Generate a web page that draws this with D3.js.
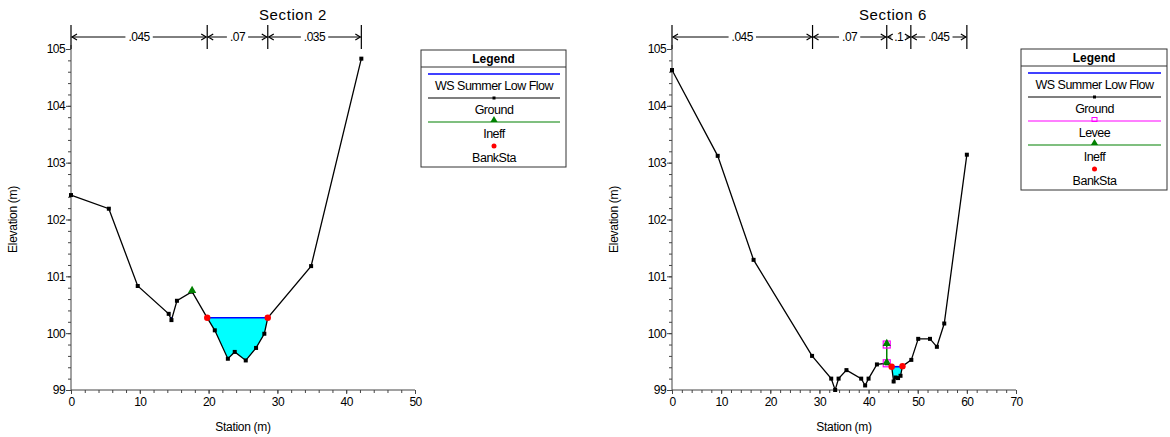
<!DOCTYPE html>
<html>
<head>
<meta charset="utf-8">
<script src="https://cdn.jsdelivr.net/npm/d3@7"></script>
<style>
  body { margin: 0; background: #fff; }
  svg { font-family: "Liberation Sans", Arial, sans-serif; }
  .tick text { font-size: 12px; fill: #000; letter-spacing: -0.6px; }
</style>
</head>
<body>
<div id="chart"></div>
<script>
// ---- Section 2 data ----
var sec2Station = [0, 5.5, 9.7, 14.2, 14.6, 15.4, 17.6, 19.8, 20.9, 22.8, 23.8, 25.4, 26.9, 28.1, 28.6, 34.9, 42.2];
var sec2Elev = [102.43, 102.19, 100.83, 100.34, 100.23, 100.57, 100.73, 100.27, 100.05, 99.55, 99.67, 99.52, 99.74, 99.99, 100.27, 101.18, 104.83];
var sec2Banks = [19.8, 28.6];
var sec2Ws = 100.27;
var sec2WetRanges = [[14.2, 15.4], [19.8, 28.6]];
var sec2IneffSta = [17.6];
var sec2IneffElev = [100.73];
var sec2NBreaks = [0, 19.8, 28.6, 42.2];
var sec2NValues = [".045", ".07", ".035"];
var sec2LegendItems = ["WS Summer Low Flow", "Ground", "Ineff", "BankSta"];

// ---- Section 6 data ----
var sec6Station = [0, 9.3, 16.6, 28.5, 32.4, 33.2, 33.9, 35.5, 38.5, 39.3, 40.0, 41.7, 43.7, 44.7, 45.1, 45.5, 46.0, 46.5, 46.9, 48.7, 50.1, 52.5, 53.9, 55.4, 60.0];
var sec6Elev = [104.63, 103.12, 101.29, 99.60, 99.20, 99.00, 99.20, 99.35, 99.20, 99.08, 99.20, 99.45, 99.47, 99.41, 99.15, 99.22, 99.21, 99.25, 99.42, 99.53, 99.90, 99.90, 99.76, 100.17, 103.14];
var sec6Banks = [44.7, 46.9];
var sec6Ws = 99.41;
var sec6WetRanges = [[44.7, 46.9]];
var sec6IneffSta = [43.7, 43.7];
var sec6IneffElev = [99.47, 99.80];
var sec6LeveeSta = [43.7, 43.7];
var sec6LeveeElev = [99.47, 99.80];
var sec6NBreaks = [0, 28.6, 43.7, 48.6, 60];
var sec6NValues = [".045", ".07", ".1", ".045"];
var sec6LegendItems = ["WS Summer Low Flow", "Ground", "Levee", "Ineff", "BankSta"];

var yTicks = [99, 100, 101, 102, 103, 104, 105];

var svg = d3.select("#chart").append("svg")
    .attr("width", 1170)
    .attr("height", 437);

function interp(sta, elev, x) {
    for (var i = 0; i < sta.length - 1; i++) {
        if (x >= sta[i] && x <= sta[i + 1]) {
            var t = (x - sta[i]) / (sta[i + 1] - sta[i]);
            return elev[i] + t * (elev[i + 1] - elev[i]);
        }
    }
    return elev[elev.length - 1];
}

function drawSection(cfg) {
    var x = d3.scaleLinear().domain([0, cfg.xMax]).range([cfg.left, cfg.right]);
    var y = d3.scaleLinear().domain([99, 105]).range([390, 49]);
    var g = svg.append("g");

    // title
    g.append("text")
        .attr("x", cfg.titleX).attr("y", 20)
        .attr("text-anchor", "middle")
        .attr("font-size", "15px")
        .attr("letter-spacing", "0.6px")
        .text(cfg.title);

    // water fill + WS line over each wet range
    cfg.wet.forEach(function(r) {
        var xs = [r[0]];
        cfg.sta.forEach(function(s) { if (s > r[0] && s < r[1]) xs.push(s); });
        xs.push(r[1]);
        // walk the ground and clip against ws
        var segs = [];
        var cur = null;
        for (var i = 0; i < xs.length - 1; i++) {
            var x0 = xs[i], x1 = xs[i + 1];
            var e0 = interp(cfg.sta, cfg.elev, x0), e1 = interp(cfg.sta, cfg.elev, x1);
            var w0 = e0 <= cfg.ws, w1 = e1 <= cfg.ws;
            if (w0 && !cur) { cur = [[x0, e0]]; }
            if (w0 && w1) { cur.push([x1, e1]); }
            else if (w0 && !w1) {
                var xc = x0 + (cfg.ws - e0) / (e1 - e0) * (x1 - x0);
                cur.push([xc, cfg.ws]); segs.push(cur); cur = null;
            } else if (!w0 && w1) {
                var xc2 = x0 + (cfg.ws - e0) / (e1 - e0) * (x1 - x0);
                cur = [[xc2, cfg.ws], [x1, e1]];
            }
        }
        if (cur) segs.push(cur);
        segs.forEach(function(s) {
            g.append("path")
                .attr("d", d3.line().x(d => x(d[0])).y(d => y(d[1]))(s) + "Z")
                .attr("fill", "#00ffff");
            g.append("line")
                .attr("x1", x(s[0][0])).attr("x2", x(s[s.length - 1][0]))
                .attr("y1", y(cfg.ws)).attr("y2", y(cfg.ws))
                .attr("stroke", "#0000ff").attr("stroke-width", 1.6);
        });
    });

    // axes
    var yMinor = d3.range(99, 105.001, 0.2);
    g.append("g").attr("transform", `translate(${cfg.left},0)`)
        .call(d3.axisLeft(y).tickValues(yMinor).tickSize(3).tickFormat(""))
        .call(a => a.select(".domain").remove())
        .selectAll("line").attr("stroke", "#444");
    var yAxis = g.append("g").attr("transform", `translate(${cfg.left},0)`)
        .call(d3.axisLeft(y).tickValues(yTicks).tickSize(5).tickPadding(1).tickFormat(d3.format("d")));
    yAxis.select(".domain").attr("stroke", "#444").attr("d", `M0,${y(99)}V${y(105) - 4}`);
    yAxis.selectAll("line").attr("stroke", "#444");

    var xMinor = d3.range(0, cfg.xMax + 0.001, 2);
    g.append("g").attr("transform", "translate(0,390)")
        .call(d3.axisBottom(x).tickValues(xMinor).tickSize(3).tickFormat(""))
        .call(a => a.select(".domain").remove())
        .selectAll("line").attr("stroke", "#444");
    var xAxis = g.append("g").attr("transform", "translate(0,390)")
        .call(d3.axisBottom(x).tickValues(d3.range(0, cfg.xMax + 0.001, 10)).tickSize(4).tickPadding(3).tickFormat(d3.format("d")));
    xAxis.select(".domain").attr("stroke", "#444").attr("d", `M${cfg.left},0H${cfg.right}`);
    xAxis.selectAll("line").attr("stroke", "#444");

    // axis titles
    g.append("text")
        .attr("x", (cfg.left + cfg.right) / 2).attr("y", 431)
        .attr("text-anchor", "middle").attr("font-size", "12px")
        .attr("letter-spacing", "-0.3px")
        .text("Station (m)");
    g.append("text")
        .attr("transform", `translate(${cfg.left - 54},${y(102)}) rotate(-90)`)
        .attr("text-anchor", "middle").attr("font-size", "12px")
        .attr("letter-spacing", "-0.3px")
        .text("Elevation (m)");

    // manning's n bar
    var nY = 37;
    cfg.nBreaks.forEach(function(b) {
        g.append("line")
            .attr("x1", x(b)).attr("x2", x(b)).attr("y1", 25).attr("y2", 49)
            .attr("stroke", "#000").attr("stroke-width", 1.2);
    });
    cfg.nValues.forEach(function(v, i) {
        var xa = x(cfg.nBreaks[i]), xb = x(cfg.nBreaks[i + 1]);
        var t = g.append("text")
            .attr("x", (xa + xb) / 2).attr("y", nY + 4)
            .attr("text-anchor", "middle").attr("font-size", "12px")
            .attr("letter-spacing", "-0.5px")
            .text(v);
        var w = t.node().getComputedTextLength();
        var mid = (xa + xb) / 2;
        g.append("line").attr("x1", xa + 1).attr("x2", mid - w / 2 - 3)
            .attr("y1", nY).attr("y2", nY).attr("stroke", "#000");
        g.append("line").attr("x1", mid + w / 2 + 3).attr("x2", xb - 1)
            .attr("y1", nY).attr("y2", nY).attr("stroke", "#000");
        g.append("path")
            .attr("d", `M${xa + 6},${nY - 3}L${xa + 1},${nY}L${xa + 6},${nY + 3}M${xb - 6},${nY - 3}L${xb - 1},${nY}L${xb - 6},${nY + 3}`)
            .attr("fill", "none").attr("stroke", "#000").attr("stroke-width", 1.2);
    });

    // ineffective flow line
    if (cfg.ineffSta.length > 1) {
        g.append("line")
            .attr("x1", x(cfg.ineffSta[0])).attr("x2", x(cfg.ineffSta[1]))
            .attr("y1", y(cfg.ineffElev[0])).attr("y2", y(cfg.ineffElev[1]))
            .attr("stroke", "#008000").attr("stroke-width", 1.5);
    }

    // ground line
    var pts = cfg.sta.map((s, i) => [s, cfg.elev[i]]);
    g.append("path")
        .attr("d", d3.line().x(d => x(d[0])).y(d => y(d[1]))(pts))
        .attr("fill", "none").attr("stroke", "#000").attr("stroke-width", 1.3);
    g.selectAll(null).data(pts).enter().append("rect")
        .attr("x", d => x(d[0]) - 2).attr("y", d => y(d[1]) - 2)
        .attr("width", 4).attr("height", 4).attr("fill", "#000");

    // levee
    if (cfg.leveeSta) {
        cfg.leveeSta.forEach(function(s, i) {
            g.append("rect")
                .attr("x", x(s) - 3.5).attr("y", y(cfg.leveeElev[i]) - 3.5)
                .attr("width", 7).attr("height", 7)
                .attr("fill", "none").attr("stroke", "#ff00ff").attr("stroke-width", 1.2);
        });
    }

    // ineff triangles
    cfg.ineffSta.forEach(function(s, i) {
        g.append("path")
            .attr("d", d3.symbol(d3.symbolTriangle, 30)())
            .attr("transform", `translate(${x(s)},${y(cfg.ineffElev[i]) - 1})`)
            .attr("fill", "#008000");
    });

    // bank stations
    cfg.banks.forEach(function(b) {
        g.append("circle")
            .attr("cx", x(b)).attr("cy", y(interp(cfg.sta, cfg.elev, b)))
            .attr("r", 3.2).attr("fill", "#ff0000");
    });

    // legend
    var L = cfg.legend;
    var lg = g.append("g");
    var items = cfg.legendItems;
    var h = 17 + items.length * 24 + 4;
    lg.append("rect").attr("x", L.x).attr("y", L.y).attr("width", L.w).attr("height", h)
        .attr("fill", "#fff").attr("stroke", "#333");
    lg.append("line").attr("x1", L.x).attr("x2", L.x + L.w).attr("y1", L.y + 17).attr("y2", L.y + 17)
        .attr("stroke", "#333");
    lg.append("text").attr("x", L.x + L.w / 2).attr("y", L.y + 13)
        .attr("text-anchor", "middle").attr("font-size", "12px").attr("font-weight", "bold")
        .text("Legend");
    var lx0 = L.x + 7, lx1 = L.x + L.w - 6, cx = (lx0 + lx1) / 2;
    items.forEach(function(name, i) {
        var ly = L.y + 24 + i * 24;
        if (name === "WS Summer Low Flow") {
            lg.append("line").attr("x1", lx0).attr("x2", lx1).attr("y1", ly).attr("y2", ly)
                .attr("stroke", "#0000ff").attr("stroke-width", 1.5);
        } else if (name === "Ground") {
            lg.append("line").attr("x1", lx0).attr("x2", lx1).attr("y1", ly).attr("y2", ly)
                .attr("stroke", "#000").attr("stroke-width", 1.2);
            lg.append("rect").attr("x", cx - 1.5).attr("y", ly - 1.5).attr("width", 3).attr("height", 3);
        } else if (name === "Levee") {
            lg.append("line").attr("x1", lx0).attr("x2", lx1).attr("y1", ly).attr("y2", ly)
                .attr("stroke", "#ff00ff").attr("stroke-width", 1.2);
            lg.append("rect").attr("x", cx - 2.5).attr("y", ly - 3.5).attr("width", 5).attr("height", 4)
                .attr("fill", "none").attr("stroke", "#ff00ff");
        } else if (name === "Ineff") {
            lg.append("line").attr("x1", lx0).attr("x2", lx1).attr("y1", ly).attr("y2", ly)
                .attr("stroke", "#008000").attr("stroke-width", 1.2);
            lg.append("path").attr("d", d3.symbol(d3.symbolTriangle, 22)())
                .attr("transform", `translate(${cx},${ly - 2})`).attr("fill", "#008000");
        } else {
            lg.append("circle").attr("cx", cx).attr("cy", ly).attr("r", 2.5).attr("fill", "#ff0000");
        }
        lg.append("text").attr("x", cx).attr("y", ly + 16)
            .attr("text-anchor", "middle").attr("font-size", "12.5px")
            .attr("letter-spacing", "-0.5px")
            .text(name);
    });
}

drawSection({
    title: "Section 2", titleX: 293,
    xMax: 50, left: 71, right: 415,
    sta: sec2Station, elev: sec2Elev, banks: sec2Banks, ws: sec2Ws,
    wet: sec2WetRanges, ineffSta: sec2IneffSta, ineffElev: sec2IneffElev,
    nBreaks: sec2NBreaks, nValues: sec2NValues,
    legend: { x: 421, y: 50, w: 145 }, legendItems: sec2LegendItems
});

drawSection({
    title: "Section 6", titleX: 893,
    xMax: 70, left: 672, right: 1016,
    sta: sec6Station, elev: sec6Elev, banks: sec6Banks, ws: sec6Ws,
    wet: sec6WetRanges, ineffSta: sec6IneffSta, ineffElev: sec6IneffElev,
    leveeSta: sec6LeveeSta, leveeElev: sec6LeveeElev,
    nBreaks: sec6NBreaks, nValues: sec6NValues,
    legend: { x: 1021, y: 49, w: 146 }, legendItems: sec6LegendItems
});
</script>
</body>
</html>
